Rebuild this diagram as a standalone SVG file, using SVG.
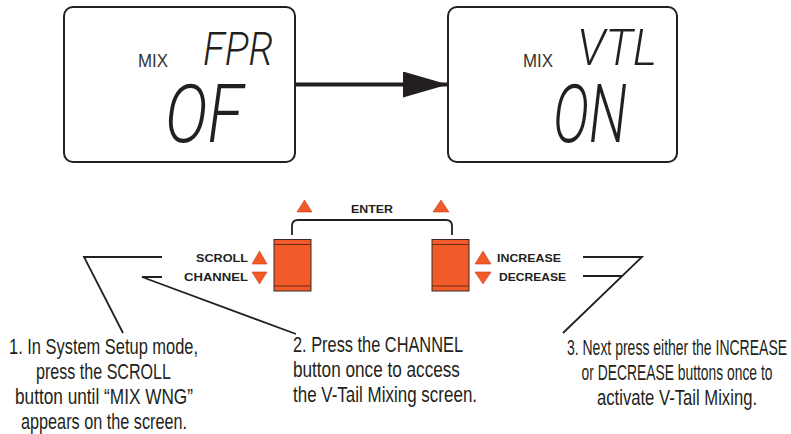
<svg xmlns="http://www.w3.org/2000/svg" width="791" height="434" viewBox="0 0 791 434">
<defs>
<style>
.screen{fill:#fff;stroke:#231f20;stroke-width:2}
.mix{font-family:"Liberation Sans",Arial,sans-serif;font-size:19px;fill:#333}
.lcd{font-family:Roboto,"Liberation Sans",Arial,sans-serif;font-style:italic;font-weight:300;fill:#231f20}
.btn{fill:#f15a29;stroke:#3b2a24;stroke-width:1}
.band{stroke:#6b2a18;stroke-width:1.2}
.tri{fill:#f15a29;stroke:#c8401c;stroke-width:0.6}
.lbl{font-family:"Liberation Sans",Arial,sans-serif;font-weight:bold;font-size:11.5px;fill:#231f20}
.lead{fill:none;stroke:#231f20;stroke-width:1.8}
.cap{font-family:"Liberation Sans",Arial,sans-serif;font-size:21.5px;fill:#231f20}
</style>
<marker id="ah" markerUnits="userSpaceOnUse" markerWidth="46" markerHeight="26" refX="45" refY="13" orient="auto">
<path d="M0,0 L45,13 L0,26 Z" fill="#231f20"/>
</marker>
</defs>

<g id="screen-fpr">
<rect class="screen" x="64" y="7" width="231" height="155" rx="9"/>
<text class="mix" x="138" y="67" textLength="30" lengthAdjust="spacingAndGlyphs">MIX</text>
<text class="lcd" x="203" y="65" font-size="46" textLength="70" lengthAdjust="spacingAndGlyphs">FPR</text>
<text class="lcd" x="165" y="142" font-size="82" textLength="78" lengthAdjust="spacingAndGlyphs">OF</text>
</g>

<g id="screen-vtl">
<rect class="screen" x="448" y="7" width="229" height="155" rx="9"/>
<text class="mix" x="523" y="67" textLength="30" lengthAdjust="spacingAndGlyphs">MIX</text>
<text class="lcd" x="577" y="65" font-size="49" textLength="80" lengthAdjust="spacingAndGlyphs">VTL</text>
<text class="lcd" x="553" y="142" font-size="82" textLength="74" lengthAdjust="spacingAndGlyphs">ON</text>
</g>

<g id="button-left">
<rect class="btn" x="274" y="239.5" width="37" height="51.5"/>
<line class="band" x1="274" y1="244.5" x2="311" y2="244.5"/>
<line class="band" x1="274" y1="286" x2="311" y2="286"/>
<polygon class="tri" points="297,212 304.5,200 312,212"/>
<polygon class="tri" points="252,264 259.5,251 267,264"/>
<polygon class="tri" points="252,272 267,272 259.5,284"/>
<text class="lbl" x="248" y="262" text-anchor="end" textLength="52" lengthAdjust="spacingAndGlyphs">SCROLL</text>
<text class="lbl" x="248" y="281" text-anchor="end" textLength="64" lengthAdjust="spacingAndGlyphs">CHANNEL</text>
</g>

<g id="button-right">
<rect class="btn" x="432" y="239.5" width="37" height="51.5"/>
<line class="band" x1="432" y1="244.5" x2="469" y2="244.5"/>
<line class="band" x1="432" y1="286" x2="469" y2="286"/>
<polygon class="tri" points="433,212 441,200 449,212"/>
<polygon class="tri" points="475,264 483,251 491,264"/>
<polygon class="tri" points="475,272 491,272 483,284"/>
<text class="lbl" x="497" y="262" textLength="64" lengthAdjust="spacingAndGlyphs">INCREASE</text>
<text class="lbl" x="499" y="281" textLength="67" lengthAdjust="spacingAndGlyphs">DECREASE</text>
</g>

<g id="enter">
<path class="lead" d="M292,235 V226 Q292,220 298,220 H446 Q452,220 452,226 V235" stroke-width="1.6"/>
<text class="lbl" x="372" y="213" text-anchor="middle" font-size="10" textLength="42" lengthAdjust="spacingAndGlyphs">ENTER</text>
</g>

<g id="connectors">
<line x1="295" y1="84.5" x2="448" y2="84.5" stroke="#231f20" stroke-width="3.8" marker-end="url(#ah)"/>
<polyline class="lead" points="162,257 84,257 123,333"/>
<polyline class="lead" points="162,277 142,277 296,334"/>
<polyline class="lead" points="583,257 642,257 563,333"/>
<line class="lead" x1="583" y1="276" x2="622" y2="276"/>
</g>

<g id="step-1">
<text class="cap" transform="translate(103.5,354) scale(0.764,1)" text-anchor="middle" textLength="247.4" lengthAdjust="spacingAndGlyphs">1. In System Setup mode,</text>
<text class="cap" transform="translate(103.5,379) scale(0.748,1)" text-anchor="middle" textLength="180.4" lengthAdjust="spacingAndGlyphs">press the SCROLL</text>
<text class="cap" transform="translate(104,404) scale(0.801,1)" text-anchor="middle" textLength="222.2" lengthAdjust="spacingAndGlyphs">button until “MIX WNG”</text>
<text class="cap" transform="translate(104,429) scale(0.755,1)" text-anchor="middle" textLength="219.9" lengthAdjust="spacingAndGlyphs">appears on the screen.</text>
</g>

<g id="step-2">
<text class="cap" transform="translate(293,352) scale(0.761,1)" textLength="223.4" lengthAdjust="spacingAndGlyphs">2. Press the CHANNEL</text>
<text class="cap" transform="translate(293,377) scale(0.798,1)" textLength="209.2" lengthAdjust="spacingAndGlyphs">button once to access</text>
<text class="cap" transform="translate(293,402) scale(0.778,1)" textLength="236.6" lengthAdjust="spacingAndGlyphs">the V-Tail Mixing screen.</text>
</g>

<g id="step-3">
<text class="cap" transform="translate(677,355) scale(0.651,1)" text-anchor="middle" textLength="338.2" lengthAdjust="spacingAndGlyphs">3. Next press either the INCREASE</text>
<text class="cap" transform="translate(677,380) scale(0.644,1)" text-anchor="middle" textLength="296.4" lengthAdjust="spacingAndGlyphs">or DECREASE buttons once to</text>
<text class="cap" transform="translate(677,405) scale(0.761,1)" text-anchor="middle" textLength="210.3" lengthAdjust="spacingAndGlyphs">activate V-Tail Mixing.</text>
</g>
</svg>
